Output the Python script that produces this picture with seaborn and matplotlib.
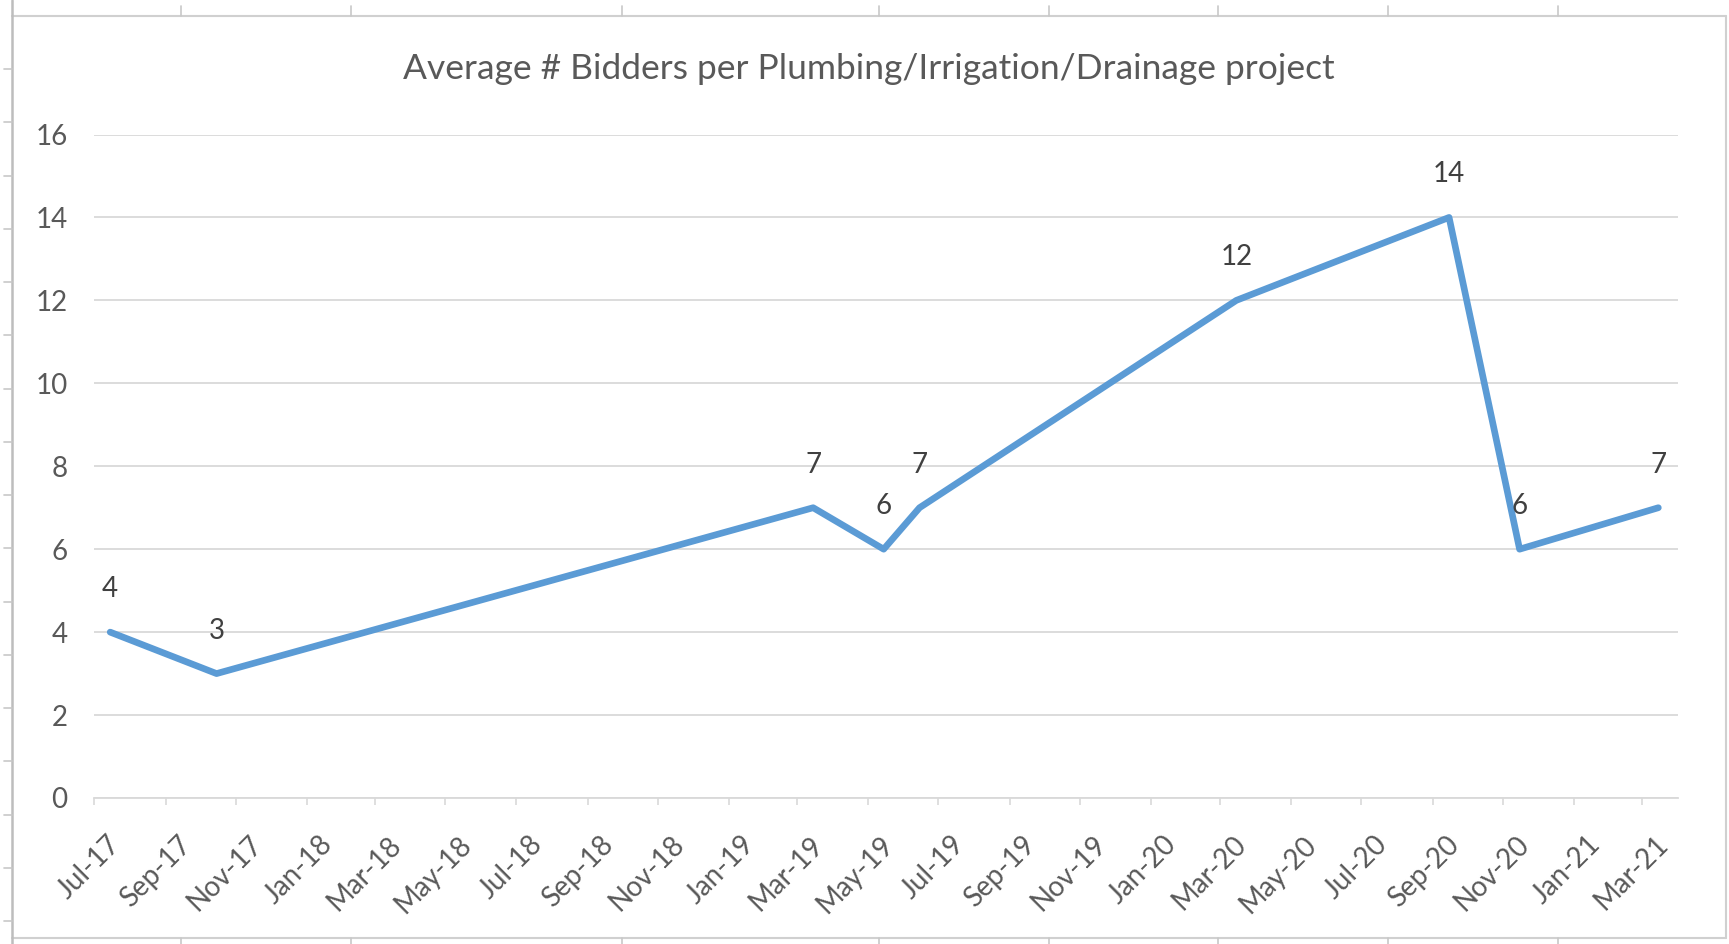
import matplotlib
matplotlib.use("Agg")
import matplotlib.pyplot as plt
import matplotlib.transforms as mtransforms
from matplotlib.lines import Line2D
import seaborn as sns
import pandas as pd

# ---- data ----
dates = ["2017-07-15", "2017-10-15", "2019-03-15", "2019-05-15", "2019-06-15",
         "2020-03-15", "2020-09-15", "2020-11-15", "2021-03-15"]
bidders = [4, 3, 7, 6, 7, 12, 14, 6, 7]
title = "Average # Bidders per Plumbing/Irrigation/Drainage project"
y_ticks = [0, 2, 4, 6, 8, 10, 12, 14, 16]
x_tick_dates = pd.date_range("2017-07-01", "2021-03-01", freq="2MS")
x_tick_labels = [d.strftime("%b-%y") for d in x_tick_dates]

df = pd.DataFrame({"date": pd.to_datetime(dates), "bidders": bidders})

sns.set_theme(style="white")
plt.rcParams["font.family"] = ["Lato", "DejaVu Sans"]

W, H = 1729, 944
fig = plt.figure(figsize=(W / 100, H / 100), dpi=100)
fig.patch.set_facecolor("white")
ax = fig.add_axes([94 / W, (H - 798) / H, (1678 - 94) / W, (798 - 134.5) / H])

sns.lineplot(data=df, x="date", y="bidders", ax=ax, color="#5B9BD5",
             linewidth=4.8, solid_capstyle="round", solid_joinstyle="round")

ax.set_xlim(pd.Timestamp("2017-07-01"), pd.Timestamp("2021-04-01"))
ax.set_ylim(0, 16)
ax.set_yticks(y_ticks)
ax.set_yticklabels([str(v) for v in y_ticks])
ax.set_xticks(x_tick_dates)
ax.set_xticklabels(x_tick_labels, rotation=45, ha="right", va="top")
ax.set_xlabel("")
ax.set_ylabel("")

ax.yaxis.grid(True, color="#D9D9D9", linewidth=1.3)
ax.xaxis.grid(False)
ax.set_axisbelow(True)
for s in ["left", "top", "right"]:
    ax.spines[s].set_visible(False)
ax.spines["bottom"].set_color("#D9D9D9")
ax.spines["bottom"].set_linewidth(1.3)

ax.tick_params(axis="x", length=5, width=1.2, color="#D9D9D9", pad=19,
               labelsize=20, labelcolor="#595959", bottom=True)
ax.tick_params(axis="y", length=0, pad=19, labelsize=20, labelcolor="#595959")

offset = mtransforms.ScaledTranslation(31 / 100, 0, fig.dpi_scale_trans)
for lab in ax.get_xticklabels():
    lab.set_transform(lab.get_transform() + offset)

for d, v in zip(df["date"], df["bidders"]):
    ax.annotate(str(v), (d, v), xytext=(0, 31), textcoords="offset points",
                ha="center", va="center", fontsize=20, color="#404040")

fig.text(869 / W, 1 - 69 / H, title, ha="center", va="center",
         fontsize=25.5, color="#595959")

# chart frame and spreadsheet cell lines around it
def fl(x0, y0, x1, y1, c="#D0D0D0", lw=1.5):
    fig.add_artist(Line2D([x0 / W, x1 / W], [1 - y0 / H, 1 - y1 / H],
                          transform=fig.transFigure, color=c, linewidth=lw))

fl(12, 16, 1726, 16)
fl(12, 938, 1726, 938)
fl(1726, 16, 1726, 938)
fl(12, 0, 12, 944, c="#BDBDBD", lw=1.8)
col_edges = [181, 351, 622, 879, 1049, 1218, 1388, 1558]
for cx in col_edges:
    fl(cx, 6, cx, 16, c="#C8C8C8", lw=1.2)
    fl(cx, 938, cx, 944, c="#C8C8C8", lw=1.2)
row_edges = [69 + 53.25 * k for k in range(17)]
for ry in row_edges:
    fl(4, ry, 12, ry, c="#C8C8C8", lw=1.2)

fig.savefig("out.png", dpi=100)
